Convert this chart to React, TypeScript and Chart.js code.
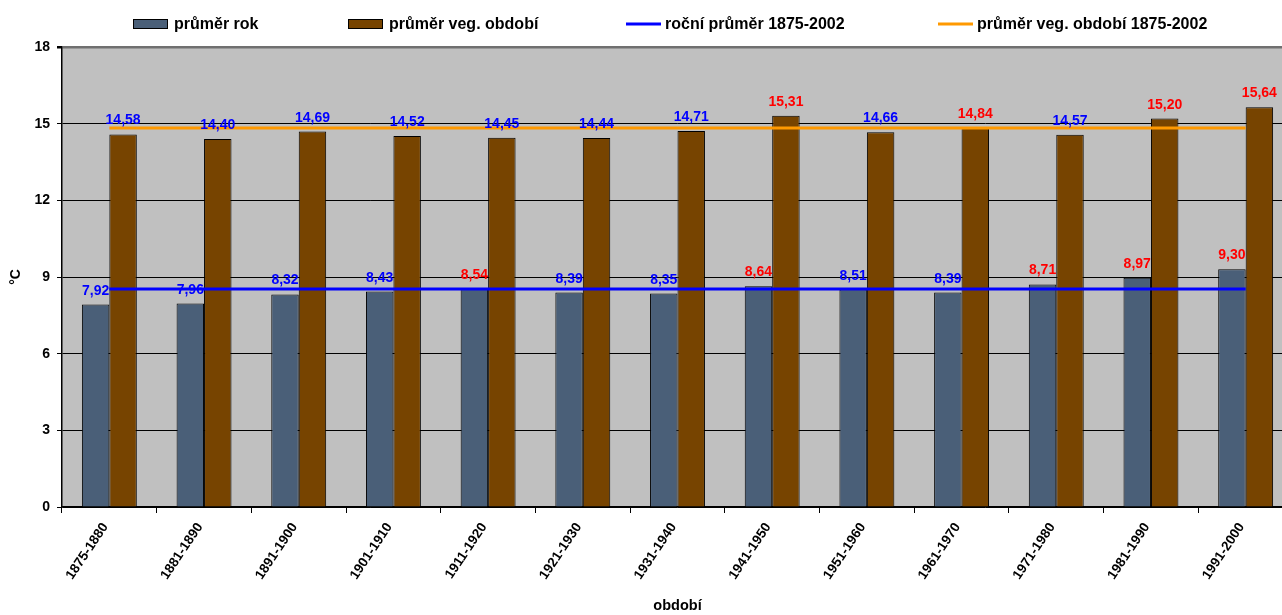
import React, { useEffect, useRef } from "react";
import { Chart, registerables } from "chart.js";

Chart.register(...registerables);

const categories = [
  "1875-1880", "1881-1890", "1891-1900", "1901-1910", "1911-1920", "1921-1930", "1931-1940",
  "1941-1950", "1951-1960", "1961-1970", "1971-1980", "1981-1990", "1991-2000",
];
const yearAvg = [7.92, 7.96, 8.32, 8.43, 8.54, 8.39, 8.35, 8.64, 8.51, 8.39, 8.71, 8.97, 9.3];
const vegAvg = [14.58, 14.4, 14.69, 14.52, 14.45, 14.44, 14.71, 15.31, 14.66, 14.84, 14.57, 15.2, 15.64];
const yearLongTermMean = 8.53;
const vegLongTermMean = 14.83;
const yTicks = [0, 3, 6, 9, 12, 15, 18];

const FONT = "'Liberation Sans', Arial, sans-serif";
const GREY_BAR = "#4A5F78";
const BROWN_BAR = "#774400";
const BLUE_LINE = "#0000FF";
const ORANGE_LINE = "#FF9900";

const fmt = (v: number) => v.toFixed(2).replace(".", ",");

const bgPlugin = {
  id: "plotBg",
  beforeDraw(chart: any) {
    const { ctx, chartArea: a } = chart;
    ctx.save();
    ctx.fillStyle = "#C0C0C0";
    ctx.fillRect(a.left, a.top, a.right - a.left, a.bottom - a.top);
    ctx.restore();
  },
};

const labelPlugin = {
  id: "barLabels",
  afterDatasetsDraw(chart: any) {
    const { ctx } = chart;
    ctx.save();
    ctx.font = `bold 14px ${FONT}`;
    ctx.textAlign = "center";
    ctx.textBaseline = "alphabetic";
    const specs = [
      { idx: 0, values: yearAvg, mean: yearLongTermMean },
      { idx: 1, values: vegAvg, mean: vegLongTermMean },
    ];
    specs.forEach((s) => {
      const meta = chart.getDatasetMeta(s.idx);
      meta.data.forEach((bar: any, j: number) => {
        const v = s.values[j];
        ctx.fillStyle = v > s.mean ? "#FF0000" : "#0000FF";
        ctx.fillText(fmt(v), bar.x, bar.y - 10);
      });
    });
    ctx.restore();
  },
};

const legendPlugin = {
  id: "customLegend",
  afterDraw(chart: any) {
    const { ctx } = chart;
    ctx.save();
    ctx.font = `bold 16px ${FONT}`;
    ctx.textBaseline = "middle";
    ctx.textAlign = "left";
    const y = 24;
    const items = [
      { kind: "box", color: GREY_BAR, x: 133, text: chart.data.datasets[0].label },
      { kind: "box", color: BROWN_BAR, x: 348, text: chart.data.datasets[1].label },
      { kind: "line", color: BLUE_LINE, x: 626, text: chart.data.datasets[2].label },
      { kind: "line", color: ORANGE_LINE, x: 938, text: chart.data.datasets[3].label },
    ];
    items.forEach((it) => {
      let tx;
      if (it.kind === "box") {
        ctx.fillStyle = it.color;
        ctx.fillRect(it.x, y - 5, 35, 10);
        ctx.strokeStyle = "#000";
        ctx.lineWidth = 1;
        ctx.strokeRect(it.x + 0.5, y - 4.5, 34, 9);
        tx = it.x + 41;
      } else {
        ctx.strokeStyle = it.color;
        ctx.lineWidth = 3;
        ctx.beginPath();
        ctx.moveTo(it.x, y);
        ctx.lineTo(it.x + 35, y);
        ctx.stroke();
        tx = it.x + 39;
      }
      ctx.fillStyle = "#000";
      ctx.fillText(it.text, tx, y + 1);
    });
    ctx.restore();
  },
};

export default function App() {
  const ref = useRef<HTMLCanvasElement | null>(null);

  useEffect(() => {
    if (!ref.current) return;
    const chart = new Chart(ref.current, {
      type: "bar",
      data: {
        labels: categories,
        datasets: [
          {
            type: "bar",
            label: "průměr rok",
            data: yearAvg,
            backgroundColor: GREY_BAR,
            borderColor: "#000",
            borderWidth: 1,
            categoryPercentage: 0.58,
            barPercentage: 1,
            order: 2,
          },
          {
            type: "bar",
            label: "průměr veg. období",
            data: vegAvg,
            backgroundColor: BROWN_BAR,
            borderColor: "#000",
            borderWidth: 1,
            categoryPercentage: 0.58,
            barPercentage: 1,
            order: 2,
          },
          {
            type: "line",
            label: "roční průměr 1875-2002",
            data: categories.map(() => yearLongTermMean),
            borderColor: BLUE_LINE,
            borderWidth: 3,
            pointRadius: 0,
            fill: false,
            order: 1,
          },
          {
            type: "line",
            label: "průměr veg. období 1875-2002",
            data: categories.map(() => vegLongTermMean),
            borderColor: ORANGE_LINE,
            borderWidth: 3,
            pointRadius: 0,
            fill: false,
            order: 1,
          },
        ],
      } as any,
      options: {
        responsive: false,
        animation: false,
        devicePixelRatio: 1,
        layout: { padding: { top: 47, right: 3, left: 0, bottom: 0 } },
        plugins: {
          legend: { display: false },
          tooltip: { enabled: false },
        },
        scales: {
          x: {
            offset: true,
            grid: {
              offset: true,
              drawOnChartArea: false,
              tickLength: 6,
              color: "#000",
            },
            border: { color: "#000", width: 1.5 },
            ticks: {
              color: "#000",
              font: { family: FONT, size: 13.5, weight: "bold" },
              minRotation: 56,
              maxRotation: 56,
              padding: 7,
              labelOffset: -4,
              autoSkip: false,
            },
            title: {
              display: true,
              text: "období",
              color: "#000",
              font: { family: FONT, size: 14.5, weight: "bold" },
              padding: { top: 0, bottom: 0 },
            },
            afterFit: (scale: any) => {
              scale.height = 108;
            },
          },
          y: {
            min: 0,
            max: 18,
            afterBuildTicks: (scale: any) => {
              scale.ticks = yTicks.map((v) => ({ value: v }));
            },
            grid: {
              color: (c: any) => (c.tick && c.tick.value === 18 ? "#707070" : "#000"),
              lineWidth: (c: any) => (c.tick && c.tick.value === 18 ? 2.5 : 1),
              tickLength: 5,
              tickColor: "#000",
            },
            border: { color: "#000", width: 1.5 },
            ticks: {
              color: "#000",
              font: { family: FONT, size: 14, weight: "bold" },
              padding: 7,
            },
            title: {
              display: true,
              text: "°C",
              color: "#000",
              font: { family: FONT, size: 14, weight: "bold" },
              padding: { top: 8, bottom: 0 },
            },
            afterFit: (scale: any) => {
              scale.width = 62;
            },
          },
        },
      } as any,
      plugins: [bgPlugin, labelPlugin, legendPlugin],
    });
    return () => chart.destroy();
  }, []);

  return (
    <div
      style={{
        position: "fixed",
        left: 0,
        top: 0,
        width: 1282,
        height: 615,
        overflow: "hidden",
        background: "#fff",
      }}
    >
      <canvas ref={ref} width={1296} height={615} style={{ display: "block" }} />
    </div>
  );
}
